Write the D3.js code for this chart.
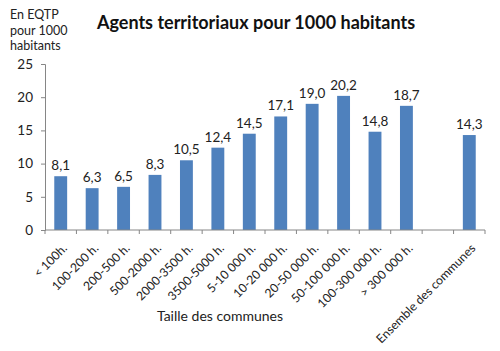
<!DOCTYPE html>
<html>
<head>
<meta charset="utf-8">
<script src="https://cdn.jsdelivr.net/npm/d3@7"></script>
<style>
  body { margin: 0; background: #fff; }
  svg { font-family: Lato, "Open Sans", sans-serif; }
</style>
</head>
<body>
<div id="chart"></div>
<script>
// categories and values (blank slot before the total)
var categories = ["< 100h.", "100-200 h.", "200-500 h.", "500-2000 h.", "2000-3500 h.",
  "3500-5000 h.", "5-10 000 h.", "10-20 000 h.", "20-50 000 h.", "50-100 000 h.",
  "100-300 000 h.", "> 300 000 h.", "", "Ensemble des communes"];
var values = [8.1, 6.3, 6.5, 8.3, 10.5, 12.4, 14.5, 17.1, 19.0, 20.2, 14.8, 18.7, null, 14.3];
var yTicks = [0, 5, 10, 15, 20, 25];

var W = 500, H = 351;
var margin = {top: 64, right: 15, bottom: 121, left: 45};
var width = W - margin.left - margin.right,
    height = H - margin.top - margin.bottom;

var svg = d3.select("#chart").append("svg")
  .attr("width", W).attr("height", H);

var g = svg.append("g")
  .attr("transform", "translate(" + margin.left + "," + margin.top + ")");

var x = d3.scaleBand()
  .domain(d3.range(categories.length))
  .range([0, width])
  .paddingInner(0.59).paddingOuter(0.295);

var y = d3.scaleLinear().domain([0, 25]).range([height, 0]);

// bars
var data = categories.map(function(c, i) { return {i: i, c: c, v: values[i]}; })
  .filter(function(d) { return d.v != null; });

g.selectAll(".bar").data(data).enter().append("rect")
  .attr("class", "bar")
  .attr("x", function(d) { return x(d.i); })
  .attr("y", function(d) { return y(d.v); })
  .attr("width", x.bandwidth())
  .attr("height", function(d) { return height - y(d.v); })
  .attr("fill", "#4f81bd");

g.selectAll(".val").data(data).enter().append("text")
  .attr("class", "val")
  .attr("x", function(d) { return x(d.i) + x.bandwidth() / 2; })
  .attr("y", function(d) { return y(d.v) - 6; })
  .attr("text-anchor", "middle")
  .attr("font-size", 13.5)
  .attr("fill", "#222")
  .text(function(d) { return d.v.toFixed(1).replace(".", ","); });

// y axis
var yAxis = g.append("g")
  .call(d3.axisLeft(y).tickValues(yTicks).tickSize(4).tickPadding(8));
yAxis.select(".domain").attr("stroke", "#868686");
yAxis.selectAll(".tick line").attr("stroke", "#868686");
yAxis.selectAll("text").attr("font-size", 13.5).attr("fill", "#222")
  .style("font-family", "Lato, sans-serif");

// x axis: tick marks sit on band edges
var step = x.step();
var xg = g.append("g").attr("transform", "translate(0," + height + ")");
xg.append("line").attr("x1", 0).attr("x2", width).attr("stroke", "#868686");
xg.selectAll(".tk").data(d3.range(categories.length + 1)).enter().append("line")
  .attr("class", "tk")
  .attr("x1", function(d) { return d * step; })
  .attr("x2", function(d) { return d * step; })
  .attr("y1", 0).attr("y2", 4)
  .attr("stroke", "#868686");

xg.selectAll(".lab").data(categories).enter().append("text")
  .attr("class", "lab")
  .attr("transform", function(d, i) {
    return "translate(" + (x(i) + x.bandwidth() / 2 + 1) + ",13) rotate(-45)";
  })
  .attr("text-anchor", "end")
  .attr("dy", "0.7em")
  .attr("font-size", 12.2)
  .attr("fill", "#222")
  .text(function(d) { return d; });

// titles
svg.append("text")
  .attr("x", 256).attr("y", 29)
  .attr("text-anchor", "middle")
  .attr("font-size", 18).attr("font-weight", "bold")
  .attr("fill", "#111")
  .text("Agents territoriaux pour 1000 habitants");

var yt = svg.append("text")
  .attr("x", 10).attr("y", 19)
  .attr("font-size", 12.5).attr("fill", "#222");
["En EQTP", "pour 1000", "habitants"].forEach(function(t, i) {
  yt.append("tspan").attr("x", 10).attr("dy", i ? 15.5 : 0).text(t);
});

svg.append("text")
  .attr("x", 220).attr("y", 321)
  .attr("text-anchor", "middle")
  .attr("font-size", 14).attr("fill", "#222")
  .text("Taille des communes");
</script>
</body>
</html>
